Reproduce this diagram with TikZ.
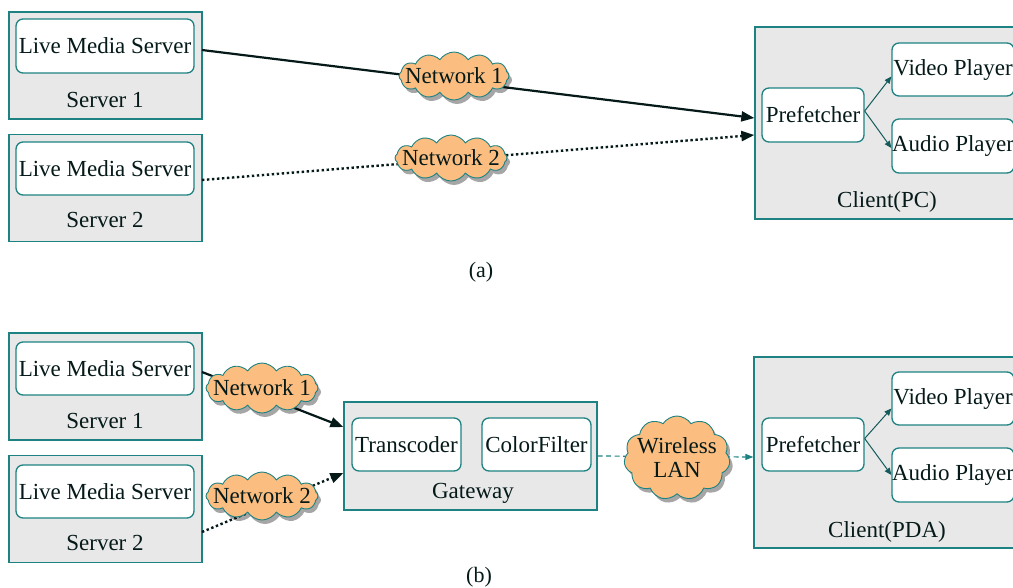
\documentclass[tikz,border=0pt]{standalone}
\usepackage{fontspec}
\setmainfont{Liberation Serif}
\usetikzlibrary{arrows.meta,shapes.symbols,shadows}
\definecolor{edge}{RGB}{30,130,130}
\definecolor{panel}{RGB}{232,232,232}
\definecolor{cloudfill}{RGB}{251,190,128}
\definecolor{ink}{RGB}{5,25,25}
\tikzset{
  every node/.style={font=\rmfamily\fontsize{23}{26}\selectfont, text=ink},
  outerbox/.style={rectangle, draw=edge, fill=panel, line width=1.3pt, inner sep=0pt},
  innerbox/.style={rectangle, draw=edge, fill=white, line width=1.3pt, rounded corners=7pt, inner sep=0pt},
  netcloud/.style={cloud, cloud puffs=12, cloud puff arc=115, draw=edge, line width=0.9pt,
    fill=cloudfill, inner sep=0pt,
    drop shadow={shadow xshift=3pt, shadow yshift=-4pt, fill=black, opacity=0.35}},
  link/.style={line width=2.2pt, draw=ink},
  dotlink/.style={line width=2.4pt, draw=ink, dash pattern=on 2.4pt off 2.6pt},
  dashlink/.style={line width=1.2pt, draw=edge, dash pattern=on 5pt off 3.5pt},
  thinlink/.style={line width=1pt, draw=edge!70!black},
  bigtip/.style={-{Triangle[length=13pt,width=10pt]}},
  smalltip/.style={-{Triangle[length=7pt,width=6pt]}},
  caption/.style={font=\rmfamily\fontsize{22}{24}\selectfont},
}
\begin{document}
\begin{tikzpicture}[x=1pt,y=-1pt]
\clip (0,0) rectangle (1013,587);
\fill[white] (0,0) rectangle (1013,587);

% ---------------- (a) ----------------
\node[outerbox, minimum width=193pt, minimum height=107pt] (srv1a) at (105.5,65.5) {};
\node[innerbox, minimum width=178pt, minimum height=54pt] (lms1a) at (105,46) {Live Media Server};
\node (s1a) at (105,100) {Server 1};

\node[outerbox, minimum width=193pt, minimum height=107pt] (srv2a) at (105.5,188) {};
\node[innerbox, minimum width=178pt, minimum height=53pt] (lms2a) at (105,168.5) {Live Media Server};
\node (s2a) at (105,220) {Server 2};

\node[outerbox, minimum width=276pt, minimum height=192pt] (cpc) at (893,123) {};
\node[innerbox, minimum width=102pt, minimum height=54pt] (pfa) at (813,115) {Prefetcher};
\node[innerbox, minimum width=122pt, minimum height=53pt] (vpa) at (953,69.5) {Video Player};
\node[innerbox, minimum width=122pt, minimum height=54pt] (apa) at (953,146) {Audio Player};
\node (cpcl) at (887,202) {Client(PC)};

\draw[thinlink, smalltip] ([yshift=4pt]pfa.east) -- ([yshift=-7pt]vpa.west);
\draw[thinlink, smalltip] ([yshift=4pt]pfa.east) -- ([yshift=-2pt]apa.west);

\coordinate (o1a) at (202,50);
\coordinate (o2a) at (202,180);
\draw[link, bigtip] (o1a) -- ([yshift=5pt]cpc.west);
\draw[dotlink, bigtip] (o2a) -- ([yshift=-12pt]cpc.west);

\node[netcloud, minimum width=110pt, minimum height=48pt] (n1a) at (454,76) {};
\node (n1at) at (n1a) {Network 1};
\node[netcloud, minimum width=112pt, minimum height=46pt] (n2a) at (451,158) {};
\node (n2at) at (n2a) {Network 2};

\node[caption] (capa) at (481,272) {(a)};

% ---------------- (b) ----------------
\node[outerbox, minimum width=193pt, minimum height=107pt] (srv1b) at (105.5,386.5) {};
\node[innerbox, minimum width=178pt, minimum height=53pt] (lms1b) at (105,368.5) {Live Media Server};
\node (s1b) at (105,421) {Server 1};

\node[outerbox, minimum width=193pt, minimum height=107pt] (srv2b) at (105.5,509) {};
\node[innerbox, minimum width=178pt, minimum height=53pt] (lms2b) at (105,491.5) {Live Media Server};
\node (s2b) at (105,543) {Server 2};

\node[outerbox, minimum width=253pt, minimum height=108pt] (gw) at (470.5,456) {};
\node[innerbox, minimum width=109pt, minimum height=53pt] (tc) at (406.5,444.5) {Transcoder};
\node[innerbox, minimum width=109pt, minimum height=53pt] (cf) at (536.5,444.5) {ColorFilter};
\node (gwl) at (473,493) {Gateway};

\node[outerbox, minimum width=276pt, minimum height=191pt] (cpda) at (892,452.5) {};
\node[innerbox, minimum width=102pt, minimum height=53pt] (pfb) at (813,444.5) {Prefetcher};
\node[innerbox, minimum width=122pt, minimum height=53pt] (vpb) at (953,398.5) {Video Player};
\node[innerbox, minimum width=122pt, minimum height=54pt] (apb) at (953,475) {Audio Player};
\node (cpdal) at (887,532) {Client(PDA)};

\draw[thinlink, smalltip] ([yshift=6pt]pfb.east) -- ([yshift=-10pt]vpb.west);
\draw[thinlink, smalltip] ([yshift=6pt]pfb.east) -- (apb.west);

\coordinate (o1b) at (202,372);
\coordinate (o2b) at (202,532);
\draw[link, bigtip] (o1b) -- ([yshift=29pt]gw.west);
\draw[dotlink, bigtip] (o2b) -- ([yshift=-17pt]gw.west);
\draw[dashlink, -{Triangle[length=8pt,width=6pt]}] (gw.east) -- ([yshift=-4.5pt]cpda.west);

\node[netcloud, minimum width=112pt, minimum height=50pt] (n1b) at (262,388) {};
\node (n1bt) at (n1b) {Network 1};
\node[netcloud, minimum width=112pt, minimum height=48pt] (n2b) at (262,496) {};
\node (n2bt) at (n2b) {Network 2};
\node[netcloud, cloud puffs=11, minimum width=106pt, minimum height=84pt] (wl) at (677,458) {};
\node[align=center] (wlt) at (wl) {Wireless\\[-2pt]LAN};

\node[caption] (capb) at (479,577) {(b)};
\end{tikzpicture}
\end{document}
